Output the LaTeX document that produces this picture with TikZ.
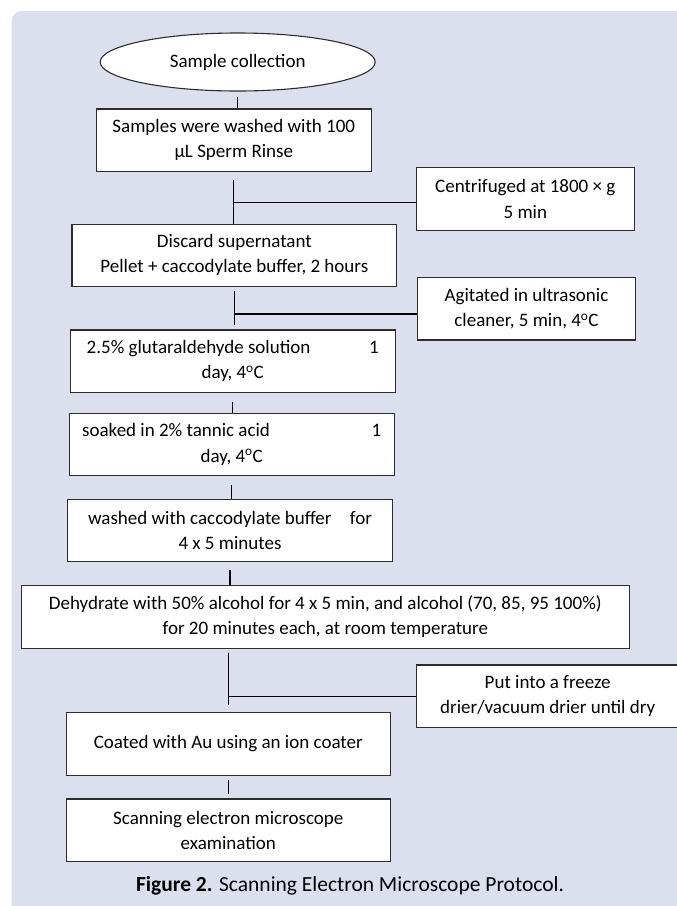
\documentclass[tikz,border=0pt]{standalone}
\usepackage{fontspec}
\setmainfont{Carlito}
\usetikzlibrary{shapes.geometric,calc}
\definecolor{panelbg}{RGB}{220,224,238}
\definecolor{boxline}{RGB}{45,45,45}
\begin{document}
\begin{tikzpicture}[x=1pt,y=-1pt,
  stepbox/.style={draw=boxline, line width=1.1pt, fill=white, minimum height=62.5pt,
    inner sep=0pt, align=center, font=\fontsize{19}{25.2}\selectfont},
  conn/.style={draw=black, line width=1.1pt}]
\useasboundingbox (0,0) rectangle (677,906);
\clip (0,0) rectangle (677,906);
\fill[white] (0,0) rectangle (677,906);
\fill[panelbg, rounded corners=10pt] (11.7,11) rectangle (700,930);

\node[ellipse, draw=boxline, line width=1.1pt, fill=white, minimum width=275pt,
  minimum height=58pt, inner sep=0pt, font=\fontsize{19}{25.2}\selectfont] (E) at (237.7,62) {Sample collection};
\node[stepbox, minimum width=275pt] (B2) at (233.8,140.2) {Samples were washed with 100\\µL Sperm Rinse};
\node[stepbox, minimum width=217.5pt] (S1) at (525.3,199) {Centrifuged at 1800 × g\\5 min};
\node[stepbox, minimum width=324.7pt] (B3) at (234.3,255.3) {Discard supernatant\\Pellet + caccodylate buffer, 2 hours};
\node[stepbox, minimum width=217.6pt] (S2) at (526.5,308.7) {Agitated in ultrasonic\\cleaner, 5 min, 4\textsuperscript{o}C};
\node[stepbox, minimum width=324.7pt] (B4) at (232.7,361.2) {\makebox[292pt]{2.5\% glutaraldehyde solution\hfill 1}\\day, 4\textsuperscript{o}C};
\node[stepbox, minimum width=324.7pt] (B5) at (231.7,444.5) {\makebox[299pt]{soaked in 2\% tannic acid\hfill 1}\\day, 4\textsuperscript{o}C};
\node[stepbox, minimum width=324.6pt] (B6) at (230,530.5) {washed with caccodylate buffer\hspace{14pt} for\\4 x 5 minutes};
\node[stepbox, minimum width=608pt] (B7) at (325.3,616.8) {Dehydrate with 50\% alcohol for 4 x 5 min, and alcohol (70, 85, 95 100\%)\\for 20 minutes each, at room temperature};
\node[stepbox, minimum width=262.7pt] (S3) at (547.7,696.2) {Put into a freeze\\drier/vacuum drier until dry};
\node[stepbox, minimum width=324.5pt] (B8) at (228.3,743.8) {Coated with Au using an ion coater};
\node[stepbox, minimum width=324.5pt] (B9) at (228.3,830.2) {Scanning electron microscope\\examination};
\node[font=\fontsize{21.5}{26}\selectfont, inner sep=0pt] (cap) at (350,886) {\textbf{Figure 2.} Scanning Electron Microscope Protocol.};

\draw[conn, shorten <=5pt] (E.south) -- (E.south |- B2.north);
\draw[conn, shorten <=7.6pt] (B2.south) -- (B2.south |- B3.north);
\draw[conn] ([yshift=-3.7pt]S1.west) -- ([yshift=-3.7pt]S1.west -| B2.south);
\draw[conn, shorten <=4.3pt, shorten >=4.3pt] (B3.south) -- (B3.south |- B4.north);
\draw[conn] ([yshift=-5.3pt]S2.west) -- ([yshift=-5.3pt]S2.west -| B3.south);
\draw[conn, shorten <=8.7pt] (B4.south) -- (B4.south |- B5.north);
\draw[conn, shorten <=8.3pt] (B5.south) -- (B5.south |- B6.north);
\draw[conn, shorten <=8pt] (B6.south) -- (B6.south |- B7.north);
\draw[conn, shorten <=4pt, shorten >=7.5pt] (B8.north |- B7.south) -- (B8.north);
\draw[conn] (S3.west) -- (S3.west -| B8.north);
\draw[conn, shorten <=4pt, shorten >=4pt] (B8.south) -- (B9.north);
\end{tikzpicture}
\end{document}
